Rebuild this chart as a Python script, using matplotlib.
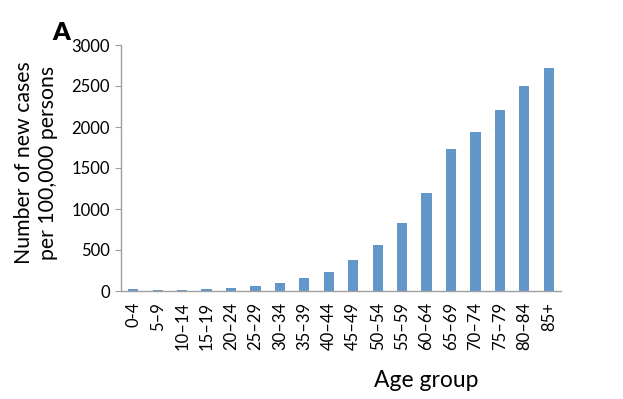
import matplotlib
matplotlib.use("Agg")
from matplotlib import pyplot as plt
import numpy as np

plt.rcParams['font.family'] = ['Lato', 'DejaVu Sans']

# age groups and incidence per 100,000
age_groups = ["0-4", "5–9", "10–14", "15–19", "20–24", "25–29", "30–34", "35–39", "40–44",
              "45–49", "50–54", "55–59", "60–64", "65–69", "70–74", "75–79", "80–84", "85+"]
new_cases = [28, 16, 12, 24, 37, 65, 93, 154, 232, 378, 565, 833, 1195, 1728, 1943, 2207, 2504, 2720]
y_ticks = [0, 500, 1000, 1500, 2000, 2500, 3000]

fig = plt.figure(figsize=(6.23, 3.99), dpi=100)
ax = fig.add_axes([121/623, 1-291/399, (561-121)/623, (291-45)/399])

x = np.arange(len(age_groups))
ax.bar(x, new_cases, width=0.42, color="#6497c9")

ax.set_xlim(-0.5, len(age_groups)-0.5)
ax.set_ylim(0, 3000)
ax.set_yticks(y_ticks)
ax.set_xticks(x)
ax.set_xticklabels(age_groups, rotation=90, fontsize=12)
ax.tick_params(axis='y', labelsize=12, length=4, color='#a0a0a0', pad=4)
ax.tick_params(axis='x', length=0, pad=8)

for s in ['top', 'right']:
    ax.spines[s].set_visible(False)
for s in ['left', 'bottom']:
    ax.spines[s].set_color('#a0a0a0')
    ax.spines[s].set_linewidth(1)

ax.set_ylabel("Number of new cases\nper 100,000 persons", fontsize=15.3, linespacing=1.25)
ax.yaxis.set_label_coords(-(121-58)/440, 0.52)
ax.set_xlabel("Age group", fontsize=16.5)
ax.xaxis.set_label_coords((426-121)/440, -(370-291)/246)

fig.text(52/623, 1-33/399, "A", fontsize=18, fontweight='heavy', va='center')

fig.savefig("out.png", dpi=100)
